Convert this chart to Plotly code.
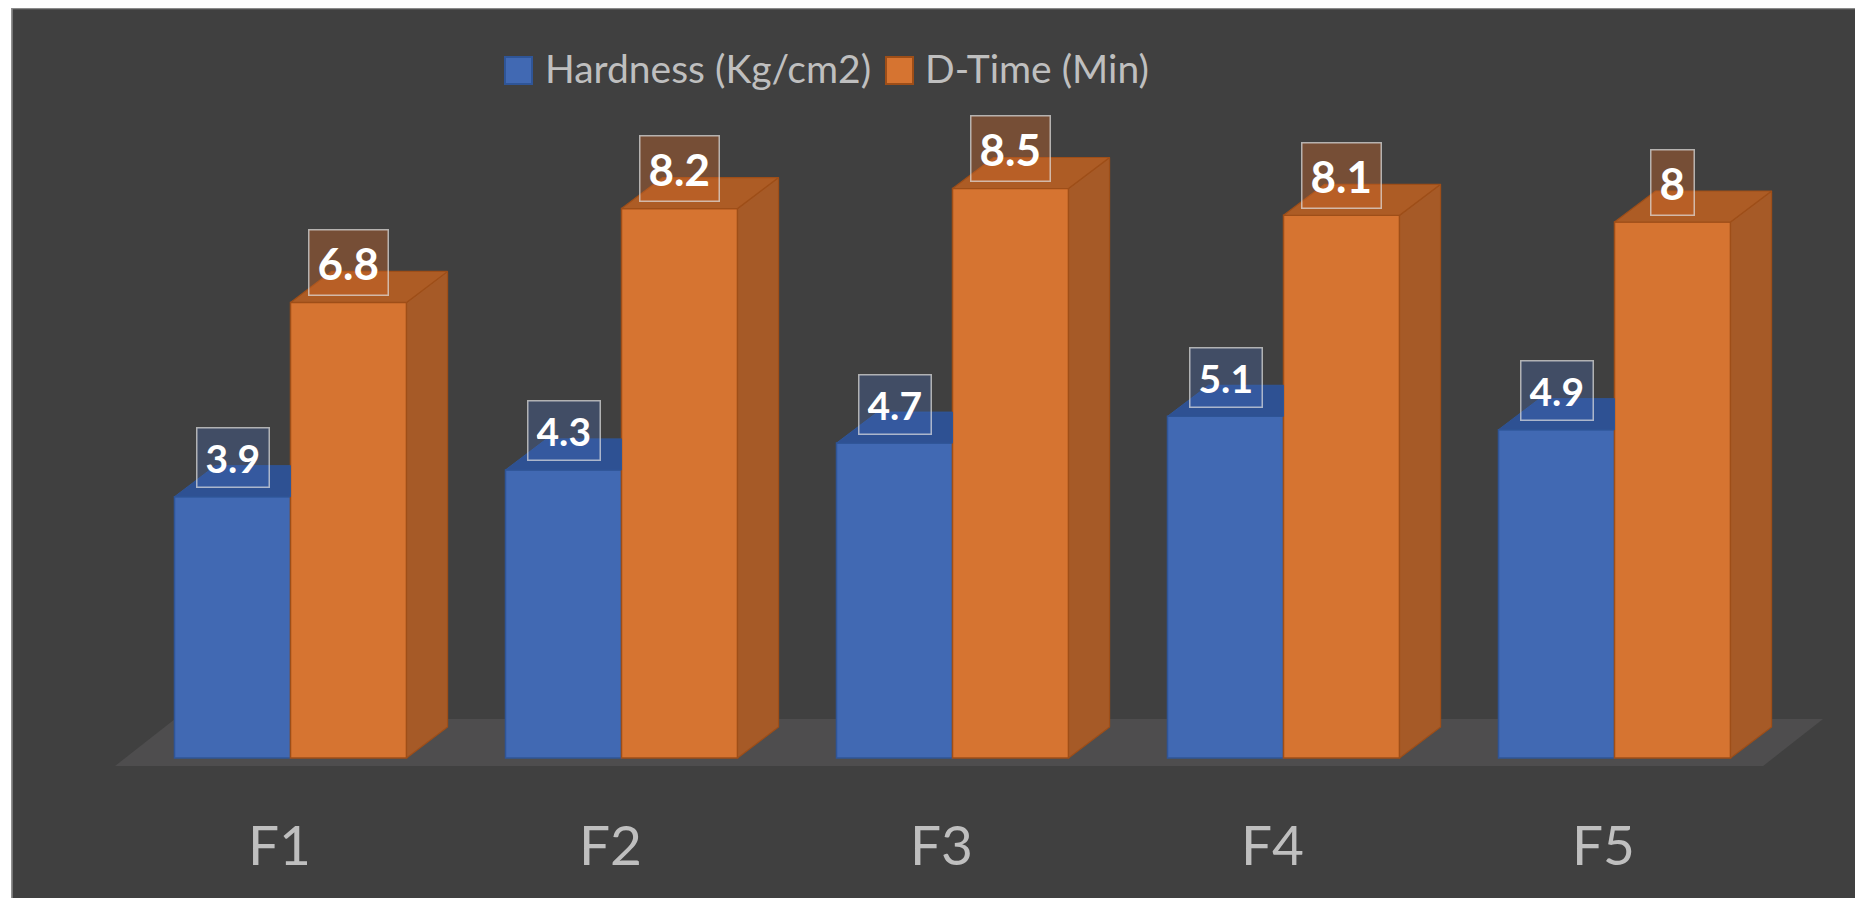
import plotly.graph_objects as go

# ---------------- data ----------------
categories = ["F1", "F2", "F3", "F4", "F5"]
hardness = [3.9, 4.3, 4.7, 5.1, 4.9]
dtime = [6.8, 8.2, 8.5, 8.1, 8.0]
series_names = ["Hardness (Kg/cm2)", "D-Time (Min)"]

# ---------------- style ----------------
W, H = 1855, 890
ML, MR, MT, MB = 0, 0, 0, 110
PH = H - MT - MB
XR = [-0.8535, -0.8535 + W / 331.0]
YR = [-0.4478, -0.4478 + PH / 67.0]
BAR_W = 0.3505          # bar width in category units
DX, DY = 0.124, 0.463   # 3-D depth offset (x in category units, y in value units)
FLOOR_PAD_L, FLOOR_PAD_R = 0.530, 0.449
FLOOR_DX, FLOOR_FRONT, FLOOR_BACK = 0.181, -0.119, 0.582

BG = "#404040"
FLOOR = "#4E4D4E"
TXT = "#BFBFBF"
BLUE_FRONT, BLUE_TOP, BLUE_EDGE = "#4169B3", "#2E5193", "#2F5597"
OR_FRONT, OR_SIDE, OR_TOP, OR_EDGE = "#D67431", "#A65A27", "#AD5C25", "#9E4E18"
FONT = "Lato"

n = len(categories)
xs = list(range(n))

fig = go.Figure()

# front faces (real bars)
fig.add_trace(go.Bar(
    x=xs, y=hardness, name=series_names[0], width=BAR_W, offset=-BAR_W,
    marker=dict(color=BLUE_FRONT, line=dict(color=BLUE_EDGE, width=1.5)),
    showlegend=False, hoverinfo="skip"))
fig.add_trace(go.Bar(
    x=xs, y=dtime, name=series_names[1], width=BAR_W, offset=0,
    marker=dict(color=OR_FRONT, line=dict(color=OR_EDGE, width=1.5)),
    showlegend=False, hoverinfo="skip"))

# 3-D top faces of blue bars (right part hidden behind orange bars)
bx, by = [], []
for i, v in zip(xs, hardness):
    x0, x1 = i - BAR_W, i
    bx += [x0, x1, x1, x0 + DX, x0, None]
    by += [v, v, v + DY, v + DY, v, None]
fig.add_trace(go.Scatter(x=bx, y=by, mode="lines", fill="toself", fillcolor=BLUE_TOP,
                         line=dict(color=BLUE_EDGE, width=1), showlegend=False, hoverinfo="skip"))

# 3-D side and top faces of orange bars
sx, sy, tx, ty = [], [], [], []
for i, v in zip(xs, dtime):
    x0, x1 = i, i + BAR_W
    sx += [x1, x1 + DX, x1 + DX, x1, x1, None]
    sy += [0, DY, v + DY, v, 0, None]
    tx += [x0, x1, x1 + DX, x0 + DX, x0, None]
    ty += [v, v, v + DY, v + DY, v, None]
fig.add_trace(go.Scatter(x=sx, y=sy, mode="lines", fill="toself", fillcolor=OR_SIDE,
                         line=dict(color=OR_EDGE, width=1.2), showlegend=False, hoverinfo="skip"))
fig.add_trace(go.Scatter(x=tx, y=ty, mode="lines", fill="toself", fillcolor=OR_TOP,
                         line=dict(color=OR_EDGE, width=1.2), showlegend=False, hoverinfo="skip"))

# floor plane (below traces)
fl, fr = -FLOOR_PAD_L, (n - 1) + FLOOR_PAD_R
floor_path = (f"M {fl},{FLOOR_FRONT} L {fr},{FLOOR_FRONT} L {fr + FLOOR_DX},{FLOOR_BACK} "
              f"L {fl + FLOOR_DX},{FLOOR_BACK} Z")
shapes = [dict(type="path", path=floor_path, xref="x", yref="y", fillcolor=FLOOR,
               line=dict(width=0), layer="below")]

# data labels
annotations = []
for i, v in zip(xs, hardness):
    annotations.append(dict(
        x=i - BAR_W / 2, y=v, xref="x", yref="y", yshift=39, text=f"{v:g}", showarrow=False,
        xanchor="center", yanchor="middle", height=42, valign="middle",
        font=dict(family=FONT, size=39, color="white", weight="bold"),
        bgcolor="rgba(70,110,190,0.30)", bordercolor="rgba(225,225,225,0.7)",
        borderwidth=1.5, borderpad=8))
for i, v in zip(xs, dtime):
    annotations.append(dict(
        x=i + BAR_W / 2, y=v, xref="x", yref="y", yshift=40, text=f"{v:g}", showarrow=False,
        xanchor="center", yanchor="middle", height=48, valign="middle",
        font=dict(family=FONT, size=44, color="white", weight="bold"),
        bgcolor="rgba(200,100,40,0.40)", bordercolor="rgba(225,225,225,0.7)",
        borderwidth=1.5, borderpad=8))

# manual legend (large swatches like the original)
def px_x(p):
    return p / W
def px_y(p):
    return 1 - p / PH

leg = [(497, 535, BLUE_FRONT, BLUE_EDGE, series_names[0]),
       (878, 915, OR_FRONT, OR_EDGE, series_names[1])]
for sq_x, tx_x, fc, lc, name in leg:
    shapes.append(dict(type="rect", xref="paper", yref="paper",
                       x0=px_x(sq_x), x1=px_x(sq_x + 27), y0=px_y(76), y1=px_y(49),
                       fillcolor=fc, line=dict(color=lc, width=2)))
    annotations.append(dict(x=px_x(tx_x), y=px_y(60.5), xref="paper", yref="paper",
                            text=name, showarrow=False, xanchor="left", yanchor="middle",
                            font=dict(family=FONT, size=39, color=TXT)))

# outer frame: white strip on the left and thin grey border of the chart area
shapes.append(dict(type="rect", xref="paper", yref="paper", x0=-0.01, x1=px_x(3.5),
                   y0=px_y(H + 10), y1=1.05, fillcolor="white", line=dict(width=0), layer="above"))
shapes.append(dict(type="line", xref="paper", yref="paper", x0=px_x(4), x1=px_x(4),
                   y0=px_y(H + 10), y1=1.05, line=dict(color="#8A8A8A", width=1.5), layer="above"))
shapes.append(dict(type="line", xref="paper", yref="paper", x0=px_x(4), x1=1.01,
                   y0=px_y(0.5), y1=px_y(0.5), line=dict(color="#8A8A8A", width=1.5), layer="above"))

fig.update_layout(
    width=W, height=H,
    margin=dict(l=ML, r=MR, t=MT, b=MB, pad=0),
    paper_bgcolor=BG, plot_bgcolor="rgba(0,0,0,0)",
    barmode="overlay",
    shapes=shapes, annotations=annotations,
    showlegend=False,
    xaxis=dict(range=XR, tickvals=xs, ticktext=categories, showgrid=False, zeroline=False,
               showline=False, ticks="", fixedrange=True, ticklabelshift=-11, ticklabelstandoff=21,
               tickfont=dict(family=FONT, size=55, color=TXT)),
    yaxis=dict(range=YR, visible=False, showgrid=False, zeroline=False, fixedrange=True),
)

fig.write_html("out.html")
